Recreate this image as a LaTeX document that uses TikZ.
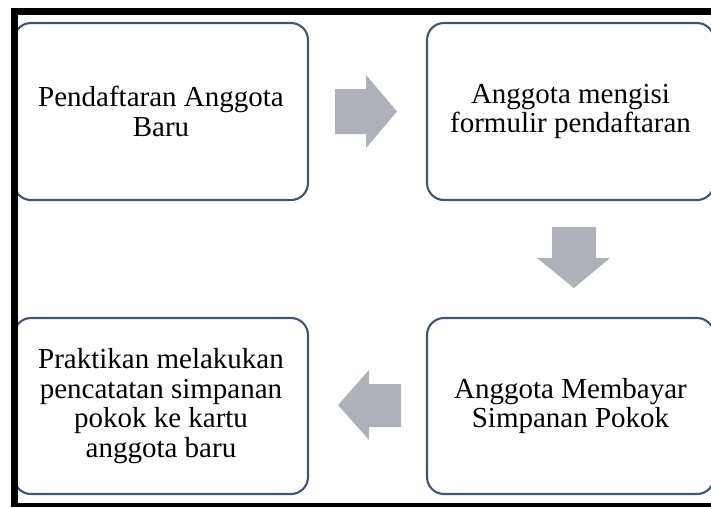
\documentclass[tikz,border=0pt]{standalone}
\usepackage{fontspec}
\setmainfont{Liberation Serif}
\definecolor{boxline}{RGB}{68,84,106}
\definecolor{arrowgrey}{RGB}{174,178,184}
\tikzset{
  stepbox/.style={draw=boxline, line width=2.1pt, fill=white, rounded corners=17pt,
    inner sep=0pt, align=center, font=\fontsize{29}{29.5}\selectfont},
  flowarrow/.style={fill=arrowgrey, draw=none},
  frameline/.style={fill=black, draw=none}
}
\begin{document}
\begin{tikzpicture}[x=1pt,y=-1pt]
\useasboundingbox (0,0) rectangle (711,507);
\clip (0,0) rectangle (711,507);
\fill[white] (0,0) rectangle (711,507);
% boxes
\node[stepbox, minimum width=294pt, minimum height=177pt] (a) at (161,111.5) {Pendaftaran Anggota\\Baru};
\node[stepbox, minimum width=287pt, minimum height=177pt] (b) at (570.5,111.5) {Anggota mengisi\\formulir pendaftaran};
\node[stepbox, minimum width=287pt, minimum height=176pt] (c) at (570.5,406) {Anggota Membayar\\Simpanan Pokok};
\node[stepbox, minimum width=294pt, minimum height=176pt] (d) at (161,406) {Praktikan melakukan\\pencatatan simpanan\\pokok ke kartu\\anggota baru};
% arrows
\fill[flowarrow] (335,89) -- (366,89) -- (366,75) -- (397,111.5) -- (366,148) -- (366,134) -- (335,134) -- cycle;
\fill[flowarrow] (552,227) -- (596,227) -- (596,258) -- (610,258) -- (574,288) -- (537,258) -- (552,258) -- cycle;
\fill[flowarrow] (401,384) -- (369,384) -- (369,370) -- (338,405) -- (369,440) -- (369,427) -- (401,427) -- cycle;
% black frame
\fill[frameline] (11,8) rectangle (711,15);
\fill[frameline] (11,8) rectangle (18,507);
\fill[frameline] (11,503) rectangle (711,507);
\end{tikzpicture}
\end{document}
